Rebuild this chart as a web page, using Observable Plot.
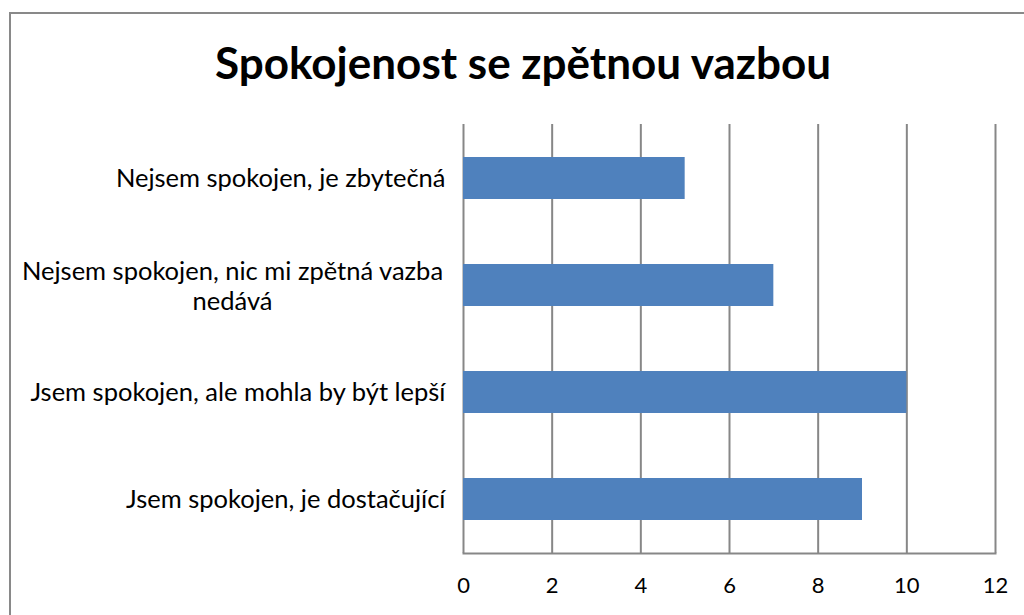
<!DOCTYPE html>
<html>
<head>
<meta charset="utf-8">
<script src="https://cdn.jsdelivr.net/npm/d3@7"></script>
<script src="https://cdn.jsdelivr.net/npm/@observablehq/plot@0.6"></script>
<style>
  body { margin: 0; background: #fff; }
  #wrap { position: relative; width: 1024px; height: 615px; overflow: hidden; background: #fff; }
  #border { position: absolute; left: 9px; top: 12px; width: 1100px; height: 700px; border: 2px solid #898989; box-sizing: border-box; }
  #title { position: absolute; top: 36px; left: 0; width: 1046px; text-align: center; font-family: Lato, sans-serif; font-weight: bold; font-size: 44px; color: #000; }
  #chart { position: absolute; left: 0; top: 0; }
</style>
</head>
<body>
<div id="wrap">
  <div id="border"></div>
  <div id="chart"></div>
  <div id="title">Spokojenost se zpětnou vazbou</div>
</div>
<script>
const categories = [
  "Nejsem spokojen, je zbytečná",
  "Nejsem spokojen, nic mi zpětná vazba nedává",
  "Jsem spokojen, ale mohla by být lepší",
  "Jsem spokojen, je dostačující"
];
const labelLines = [
  "Nejsem spokojen, je zbytečná",
  "Nejsem spokojen, nic mi zpětná vazba\nnedává",
  "Jsem spokojen, ale mohla by být lepší",
  "Jsem spokojen, je dostačující"
];
const values = [5, 7, 10, 9];
const xTicks = [0, 2, 4, 6, 8, 10, 12];

const data = categories.map((c, i) => ({category: c, value: values[i], label: labelLines[i]}));
const single = data.filter(d => !d.label.includes("\n"));
const multi = data.filter(d => d.label.includes("\n"));

const chart = Plot.plot({
  width: 1024,
  height: 615,
  marginLeft: 463,
  marginRight: 29,
  marginTop: 124,
  marginBottom: 62,
  style: {fontFamily: "Lato, sans-serif", background: "transparent"},
  x: {domain: [0, 12], ticks: xTicks, label: null},
  y: {domain: categories, paddingInner: 0.61, paddingOuter: 0.305, axis: null},
  marks: [
    Plot.gridX(xTicks, {stroke: "#878787", strokeOpacity: 1, strokeWidth: 2}),
    Plot.frame({anchor: "bottom", stroke: "#878787", strokeWidth: 2}),
    Plot.barX(data, {x: "value", y: "category", fill: "#4F81BD"}),
    Plot.axisX(xTicks, {tickSize: 0, tickPadding: 24, fontSize: 22, fill: "#000", label: null}),
    Plot.text(single, {x: 0, y: "category", text: "label", textAnchor: "end", dx: -18, fontSize: 25.5, fill: "#000"}),
    Plot.text(multi, {x: 0, y: "category", text: "label", textAnchor: "middle", dx: -231, fontSize: 25.5, fill: "#000", lineHeight: 1.15})
  ]
});
document.getElementById("chart").appendChild(chart);
</script>
</body>
</html>
